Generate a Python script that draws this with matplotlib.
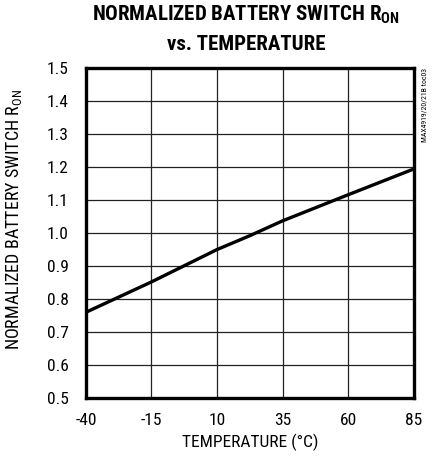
import matplotlib
matplotlib.use("Agg")
import matplotlib.pyplot as plt
from matplotlib import font_manager

temps = [-40, -15, 10, 22.5, 35, 60, 85]
ron_norm = [0.761, 0.853, 0.951, 0.993, 1.038, 1.117, 1.195]
x_ticks = [-40, -15, 10, 35, 60, 85]
y_ticks = [0.5, 0.6, 0.7, 0.8, 0.9, 1.0, 1.1, 1.2, 1.3, 1.4, 1.5]

names = {f.name for f in font_manager.fontManager.ttflist}
fam = next((n for n in ['Roboto Condensed', 'Archivo Narrow', 'PT Sans Narrow',
                        'Barlow Semi Condensed', 'Sofia Sans Condensed', 'Liberation Sans']
            if n in names), 'DejaVu Sans')
plt.rcParams['font.family'] = [fam, 'DejaVu Sans']
plt.rcParams['mathtext.fontset'] = 'custom'
plt.rcParams['mathtext.rm'] = fam
plt.rcParams['mathtext.bf'] = fam + ':bold'

fig = plt.figure(figsize=(4.34, 4.59), dpi=100)
ax = fig.add_axes([0.198, 0.132, 0.755, 0.719])
ax.plot(temps, ron_norm, color='black', lw=2.4, solid_capstyle='butt')
ax.set_xlim(-40, 85)
ax.set_ylim(0.5, 1.5)
ax.set_xticks(x_ticks)
ax.set_yticks(y_ticks)
ax.set_xticklabels([str(t) for t in x_ticks])
ax.set_yticklabels([f"{v:.1f}" for v in y_ticks])
ax.grid(True, color='#222222', lw=0.9)
ax.tick_params(length=0, labelsize=12.5)
ax.tick_params(axis='y', pad=12.5)
ax.tick_params(axis='x', pad=10.5)
for s in ax.spines.values():
    s.set_linewidth(2.4)
ax.set_xlabel("TEMPERATURE (°C)", fontsize=12.5, labelpad=4)
ax.set_ylabel(r"NORMALIZED BATTERY SWITCH R$_{\mathrm{ON}}$", fontsize=13)
ax.yaxis.set_label_coords(4 / 434, 1 - 220 / 459, transform=fig.transFigure)
ax.yaxis.label.set_va('top')
fig.text(0.567, 1 - 15 / 459, r"NORMALIZED BATTERY SWITCH R$_{\mathbf{ON}}$",
         ha='center', va='center', fontsize=15, fontweight='heavy')
fig.text(0.567, 1 - 44.5 / 459, "vs. TEMPERATURE",
         ha='center', va='center', fontsize=15, fontweight='heavy')
fig.text(0.979, 0.851, "MAX4919/20/21B toc03", rotation=90, ha='center', va='top', fontsize=5.6)
fig.savefig("out.png", dpi=100)
